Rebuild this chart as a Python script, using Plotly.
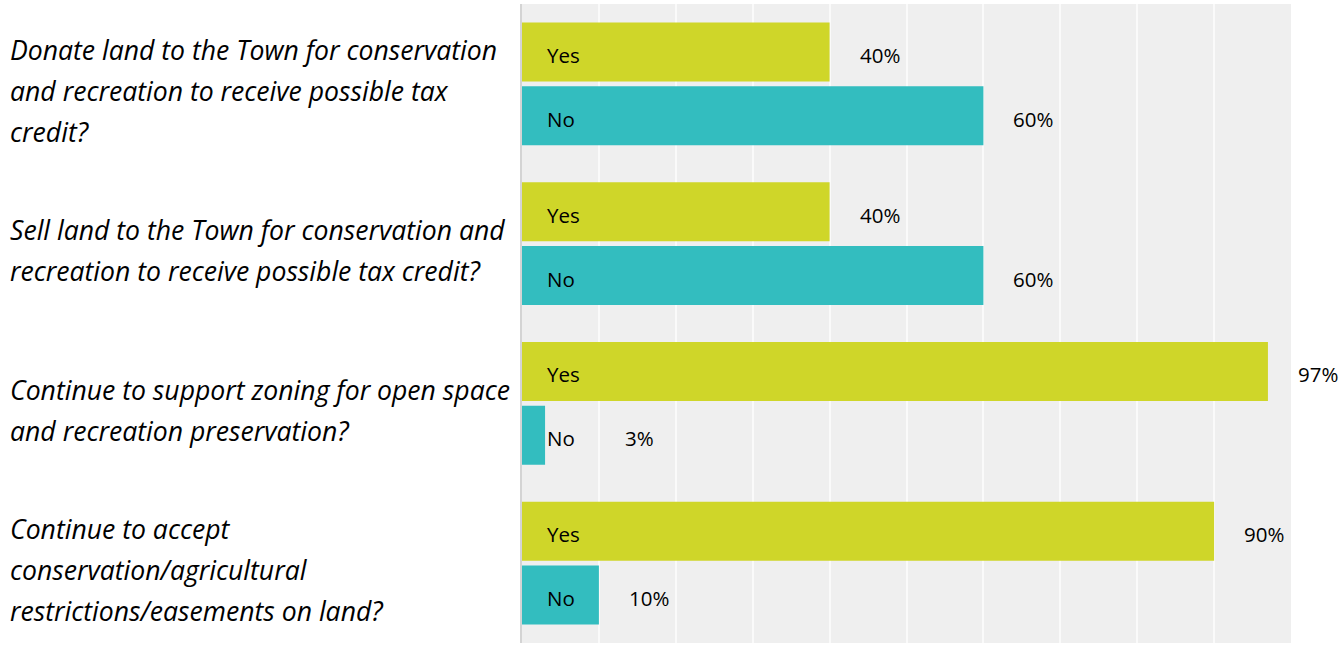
import plotly.graph_objects as go

# Survey questions, each split into the lines it is printed on
question_lines = [
    ["Donate land to the Town for conservation",
     "and recreation to receive possible tax",
     "credit?"],
    ["Sell land to the Town for conservation and",
     "recreation to receive possible tax credit?"],
    ["Continue to support zoning for open space",
     "and recreation preservation?"],
    ["Continue to accept",
     "conservation/agricultural",
     "restrictions/easements on land?"],
]
categories = [" ".join(lines) for lines in question_lines]

yes_pct = [40, 40, 97, 90]
no_pct = [60, 60, 3, 10]

answer_names = ["Yes", "No"]
answer_colors = ["#cfd629", "#33bdbf"]

fig = go.Figure()
for name, vals, color in zip(answer_names, [yes_pct, no_pct], answer_colors):
    fig.add_trace(go.Bar(
        name=name, y=categories, x=vals, orientation="h",
        marker=dict(color=color, line=dict(width=0)),
        offsetgroup=name, hoverinfo="skip",
    ))

annotations = []
label_font = dict(family="Open Sans, sans-serif", size=20.5, color="#000000")
bar_offset = 64 / 2  # half of a bar slot, px

for i, cat in enumerate(categories):
    for j, (name, vals) in enumerate(zip(answer_names, [yes_pct, no_pct])):
        dy = bar_offset if j == 0 else -bar_offset
        # answer name inside the bar
        annotations.append(dict(
            x=0, y=cat, xref="x", yref="y", text=name, showarrow=False,
            xanchor="left", yanchor="middle", xshift=23, yshift=dy - 3,
            font=label_font,
        ))
        # percentage just past the bar end (or past the answer name)
        v = vals[i]
        annotations.append(dict(
            x=max(v, 9.5), y=cat, xref="x", yref="y", text=f"{v}%",
            showarrow=False, xanchor="left", yanchor="middle",
            xshift=28, yshift=dy - 3, font=label_font,
        ))

    # question text to the left of the plot
    lines = question_lines[i]
    n = len(lines)
    for k, line in enumerate(lines):
        annotations.append(dict(
            x=0, xref="paper", y=cat, yref="y", text=f"<i>{line}</i>",
            showarrow=False, xanchor="left", yanchor="middle",
            xshift=-514, yshift=-7 - (k - (n - 1) / 2) * 41,
            font=dict(family="Open Sans, sans-serif", size=26.6,
                      color="#000000"),
        ))

fig.update_layout(
    width=1342, height=645,
    margin=dict(l=522, r=51, t=4, b=2),
    paper_bgcolor="#ffffff",
    plot_bgcolor="#efefef",
    barmode="group",
    bargap=0.2,
    bargroupgap=0.078,
    showlegend=False,
    annotations=annotations,
    font=dict(family="Open Sans, sans-serif"),
)
fig.update_xaxes(
    range=[0, 100], dtick=10, showticklabels=False, ticks="",
    showgrid=True, gridcolor="#fafafa", gridwidth=2,
    zeroline=False, showline=False,
)
fig.update_yaxes(
    autorange="reversed", showticklabels=False, ticks="",
    showgrid=False, zeroline=False,
    showline=True, linecolor="#d4d4d4", linewidth=1.5,
)

fig.write_html("out.html")
